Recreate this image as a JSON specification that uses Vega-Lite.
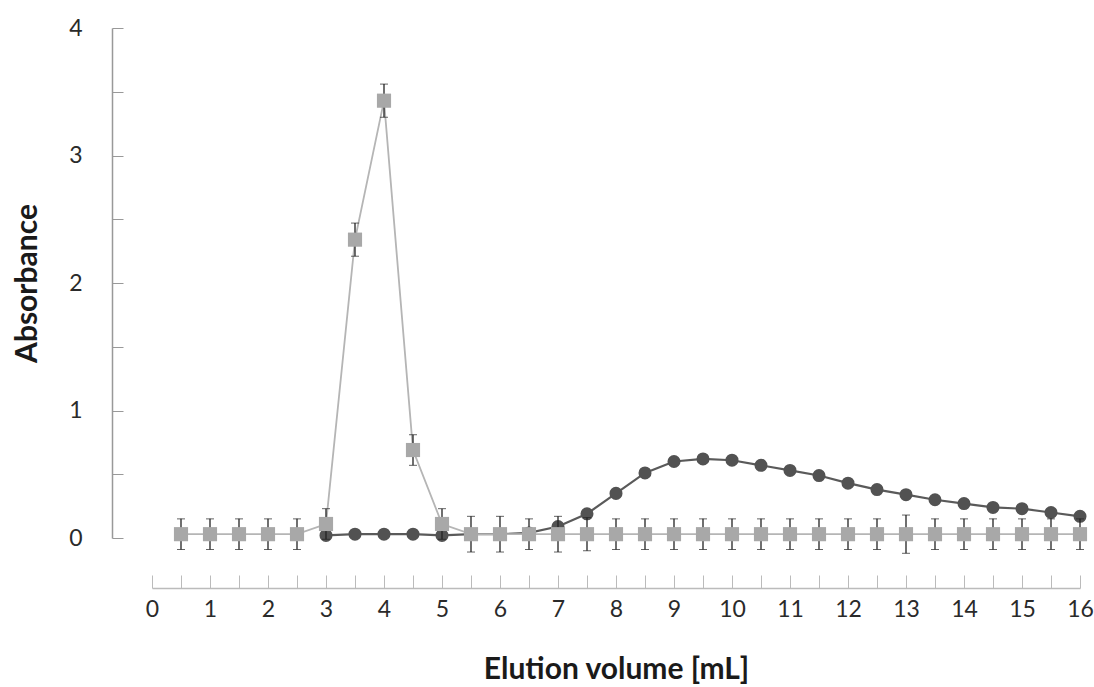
{
  "$schema": "https://vega.github.io/schema/vega-lite/v6.json",
  "width": 928,
  "height": 510,
  "autosize": {"type": "none"},
  "padding": {"left": 152, "top": 28, "right": 14, "bottom": 149},
  "background": "white",
  "config": {"view": {"stroke": null}, "font": "Lato"},
  "datasets": {
    "grey": [
      {"vol": 0.5, "value": 0.03, "err": 0.12},
      {"vol": 1, "value": 0.03, "err": 0.12},
      {"vol": 1.5, "value": 0.03, "err": 0.12},
      {"vol": 2, "value": 0.03, "err": 0.12},
      {"vol": 2.5, "value": 0.03, "err": 0.12},
      {"vol": 3, "value": 0.11, "err": 0.12},
      {"vol": 3.5, "value": 2.34, "err": 0.13},
      {"vol": 4, "value": 3.43, "err": 0.13},
      {"vol": 4.5, "value": 0.69, "err": 0.12},
      {"vol": 5, "value": 0.11, "err": 0.12},
      {"vol": 5.5, "value": 0.03, "err": 0.14},
      {"vol": 6, "value": 0.03, "err": 0.14},
      {"vol": 6.5, "value": 0.03, "err": 0.12},
      {"vol": 7, "value": 0.03, "err": 0.14},
      {"vol": 7.5, "value": 0.03, "err": 0.13},
      {"vol": 8, "value": 0.03, "err": 0.12},
      {"vol": 8.5, "value": 0.03, "err": 0.12},
      {"vol": 9, "value": 0.03, "err": 0.12},
      {"vol": 9.5, "value": 0.03, "err": 0.12},
      {"vol": 10, "value": 0.03, "err": 0.12},
      {"vol": 10.5, "value": 0.03, "err": 0.12},
      {"vol": 11, "value": 0.03, "err": 0.12},
      {"vol": 11.5, "value": 0.03, "err": 0.12},
      {"vol": 12, "value": 0.03, "err": 0.12},
      {"vol": 12.5, "value": 0.03, "err": 0.12},
      {"vol": 13, "value": 0.03, "err": 0.15},
      {"vol": 13.5, "value": 0.03, "err": 0.12},
      {"vol": 14, "value": 0.03, "err": 0.12},
      {"vol": 14.5, "value": 0.03, "err": 0.12},
      {"vol": 15, "value": 0.03, "err": 0.12},
      {"vol": 15.5, "value": 0.03, "err": 0.12},
      {"vol": 16, "value": 0.03, "err": 0.12}
    ],
    "dark": [
      {"vol": 3, "value": 0.02},
      {"vol": 3.5, "value": 0.03},
      {"vol": 4, "value": 0.03},
      {"vol": 4.5, "value": 0.03},
      {"vol": 5, "value": 0.02},
      {"vol": 5.5, "value": 0.03},
      {"vol": 6, "value": 0.03},
      {"vol": 6.5, "value": 0.04},
      {"vol": 7, "value": 0.09},
      {"vol": 7.5, "value": 0.19},
      {"vol": 8, "value": 0.35},
      {"vol": 8.5, "value": 0.51},
      {"vol": 9, "value": 0.6},
      {"vol": 9.5, "value": 0.62},
      {"vol": 10, "value": 0.61},
      {"vol": 10.5, "value": 0.57},
      {"vol": 11, "value": 0.53},
      {"vol": 11.5, "value": 0.49},
      {"vol": 12, "value": 0.43},
      {"vol": 12.5, "value": 0.38},
      {"vol": 13, "value": 0.34},
      {"vol": 13.5, "value": 0.3},
      {"vol": 14, "value": 0.27},
      {"vol": 14.5, "value": 0.24},
      {"vol": 15, "value": 0.23},
      {"vol": 15.5, "value": 0.2},
      {"vol": 16, "value": 0.17}
    ]
  },
  "encoding": {
    "x": {
      "field": "vol",
      "type": "quantitative",
      "scale": {"domain": [0, 16], "nice": false, "zero": false},
      "axis": {
        "title": "Elution volume [mL]",
        "offset": 50,
        "values": [0, 0.5, 1, 1.5, 2, 2.5, 3, 3.5, 4, 4.5, 5, 5.5, 6, 6.5, 7, 7.5, 8, 8.5, 9, 9.5, 10, 10.5, 11, 11.5, 12, 12.5, 13, 13.5, 14, 14.5, 15, 15.5, 16],
        "labelExpr": "datum.value % 1 === 0 ? format(datum.value, 'd') : ''",
        "labelOverlap": false,
        "labelFlush": false,
        "tickSize": -13,
        "domainColor": "#bbbbbb",
        "tickColor": "#bbbbbb",
        "domainWidth": 1.5,
        "labelFontSize": 23,
        "labelColor": "#2a2a2a",
        "labelPadding": 23,
        "titleFontSize": 30,
        "titleFontWeight": "bold",
        "titleColor": "#1a1a1a",
        "titlePadding": 33,
        "grid": false
      }
    },
    "y": {
      "field": "value",
      "type": "quantitative",
      "scale": {"domain": [0, 4], "nice": false},
      "axis": {
        "title": "Absorbance",
        "offset": 40,
        "values": [0, 0.5, 1, 1.5, 2, 2.5, 3, 3.5, 4],
        "labelExpr": "datum.value % 1 === 0 ? format(datum.value, 'd') : ''",
        "labelOverlap": false,
        "labelFlush": false,
        "tickSize": -11,
        "domainColor": "#999999",
        "tickColor": "#999999",
        "domainWidth": 1.5,
        "labelFontSize": 23,
        "labelColor": "#2a2a2a",
        "labelPadding": 41,
        "titleFontSize": 30,
        "titleFontWeight": "bold",
        "titleColor": "#1a1a1a",
        "titlePadding": 26,
        "grid": false
      }
    }
  },
  "layer": [
    {
      "data": {"name": "dark"},
      "mark": {"type": "line", "color": "#5a5a5a", "strokeWidth": 2.2}
    },
    {
      "data": {"name": "dark"},
      "mark": {"type": "point", "shape": "circle", "filled": true, "size": 170, "color": "#525252", "opacity": 1}
    },
    {
      "data": {"name": "grey"},
      "mark": {"type": "line", "color": "#b5b5b5", "strokeWidth": 1.8}
    },
    {
      "data": {"name": "grey"},
      "mark": {"type": "errorbar", "ticks": {"size": 8, "color": "#222222", "strokeWidth": 2}, "rule": {"color": "#222222", "strokeWidth": 1.3}},
      "encoding": {"yError": {"field": "err"}}
    },
    {
      "data": {"name": "grey"},
      "mark": {"type": "point", "shape": "square", "filled": true, "size": 200, "color": "#a8a8a8", "opacity": 1}
    }
  ]
}
